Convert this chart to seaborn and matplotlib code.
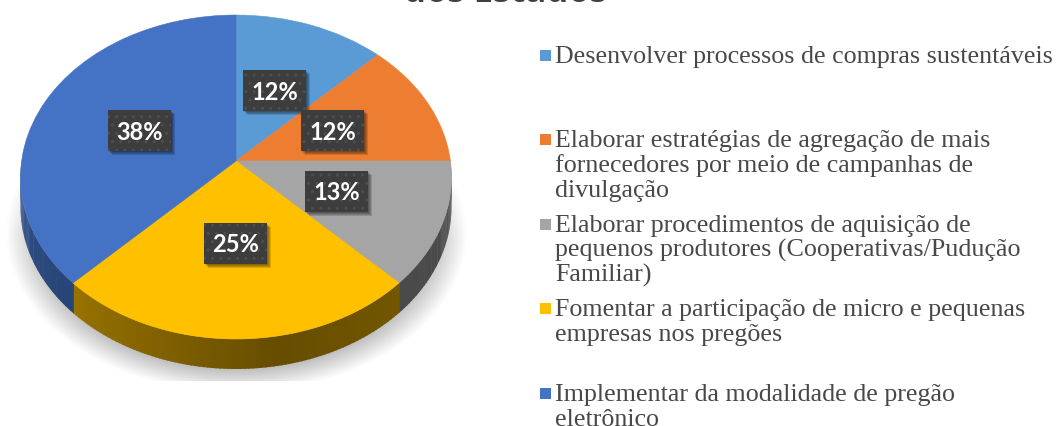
import numpy as np
import matplotlib
matplotlib.use("Agg")
import matplotlib.pyplot as plt
import seaborn as sns
from matplotlib.patches import Polygon, Rectangle
from matplotlib.transforms import Transform

# data
title = "dos Estados"
values = [1, 1, 1, 2, 3]
pct_labels = ["12%", "12%", "13%", "25%", "38%"]
colors = ["#5b9bd5", "#ed7d31", "#a5a5a5", "#ffc000", "#4472c4"]
legend_lines = [
    ["Desenvolver processos de compras sustentáveis"],
    ["Elaborar estratégias de agregação de mais", "fornecedores por meio de campanhas de", "divulgação"],
    ["Elaborar procedimentos de aquisição de", "pequenos produtores (Cooperativas/Pudução", "Familiar)"],
    ["Fomentar a participação de micro e pequenas", "empresas nos pregões"],
    ["Implementar da modalidade de pregão", "eletrônico"],
]

# layout in pixels
cx, cy = 236, 161
a, b, k = 160.4, 214.4, 0.0988
depth = 30
box_pos = [(243, 70), (301, 110), (305, 171), (204, 223), (108, 110)]
legend_base = [63, 147, 232, 316, 401]


class Perspective(Transform):
    # tilts the flat pie so it looks like the 3d one
    input_dims = 2
    output_dims = 2

    def transform_non_affine(self, pts):
        pts = np.asarray(pts, dtype=float)
        w = 1 + k * pts[:, 1]
        return np.column_stack([cx + b * pts[:, 0] / w, cy - a * pts[:, 1] / w])


sns.set_theme(style="white")
plt.rcParams["font.family"] = ["Liberation Serif", "DejaVu Sans"]

fig = plt.figure(figsize=(10.56, 4.26), dpi=100, facecolor="white")
ax = fig.add_axes([0, 0, 1, 1])

wedges, _ = ax.pie(values, colors=colors, startangle=90, counterclock=False)
ax.set_aspect("auto")
ax.set_xlim(0, 1056)
ax.set_ylim(426, 0)
ax.axis("off")

proj = Perspective()
for w in wedges:
    w.set_transform(proj + ax.transData)
    w.set_edgecolor(w.get_facecolor())
    w.set_linewidth(0.4)
    w.set_zorder(3)

# soft shadow under the pie
yy, xx = np.mgrid[0:381, 0:1056]
r = np.sqrt(((xx - 236) / 231) ** 2 + ((yy - 232) / 160) ** 2)
alpha = np.clip((1 - r) / 0.17, 0, 1) * 0.3 * np.clip((yy - 120) / 120, 0, 1)
shadow = np.zeros(alpha.shape + (4,))
shadow[..., 3] = alpha
ax.imshow(shadow, extent=(0, 1056, 381, 0), aspect="auto", zorder=0, interpolation="bilinear")
ax.set_xlim(0, 1056)
ax.set_ylim(426, 0)

# side wall, cut in small strips to get the shading
for w, col in zip(wedges, colors):
    base = np.array(matplotlib.colors.to_rgb(col))
    for t in np.arange(w.theta1, w.theta2, 1.0):
        tm = (t + 0.5) % 360
        if tm < 180:
            continue
        shade = np.interp(tm, [180, 225, 280, 315, 360], [0.72, 0.6, 0.4, 0.45, 0.45])
        ang = np.radians([t, t + 1.3])
        edge = proj.transform(np.column_stack([np.cos(ang), np.sin(ang)]))
        low = edge[::-1] + [0, depth]
        ax.add_patch(Polygon(np.vstack([edge, low]), closed=True, facecolor=base * shade,
                             edgecolor="none", zorder=2))

# value labels
for (x, y), lab in zip(box_pos, pct_labels):
    for off in [1, 2, 3, 4]:
        ax.add_patch(Rectangle((x + off, y + off), 63, 41, facecolor="black", alpha=0.14,
                               edgecolor="none", zorder=4))
    ax.add_patch(Rectangle((x, y), 63, 41, facecolor="#3d3d3d", zorder=5, edgecolor="none"))
    ax.add_patch(Rectangle((x, y), 63, 41, facecolor="none", edgecolor="#4e4e4e", hatch="..",
                           linewidth=0, zorder=5))
    ax.text(x + 31.5, y + 22, lab, color="white", fontsize=17, fontweight="bold",
            family="Lato", ha="center", va="center", zorder=6)

# legend
for col, lines, base_y in zip(colors, legend_lines, legend_base):
    ax.add_patch(Rectangle((540, base_y - 13), 10.5, 11, facecolor=col, edgecolor="none"))
    for i, line in enumerate(lines):
        ax.text(555, base_y + i * 25, line, color="#484848", fontsize=18.75, va="baseline", ha="left")

ax.text(505, 2, title, color="#404040", fontsize=25, fontweight="bold", family="Open Sans",
        ha="center", va="baseline")

fig.savefig("out.png", dpi=100)
